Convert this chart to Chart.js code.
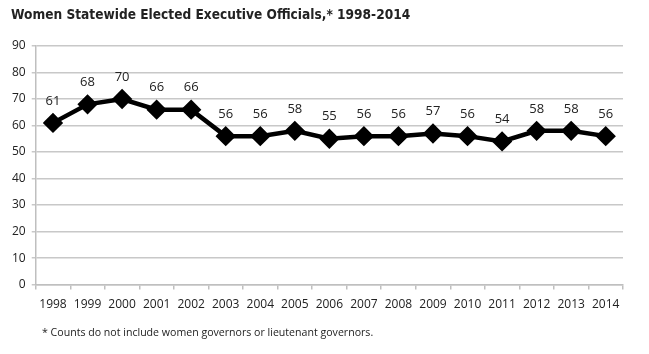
<!DOCTYPE html>
<html><head><meta charset="utf-8">
<script src="https://cdn.jsdelivr.net/npm/chart.js@4/dist/chart.umd.min.js"></script>
<style>html,body{margin:0;padding:0;background:#fff}#wrap{width:649px;height:354px;position:relative}</style>
</head><body><div id="wrap"><canvas id="c"></canvas></div>
<script>
const years = ['1998','1999','2000','2001','2002','2003','2004','2005','2006','2007','2008','2009','2010','2011','2012','2013','2014'];
const officials = [61,68,70,66,66,56,56,58,55,56,56,57,56,54,58,58,56];
const titleText = 'Women Statewide Elected Executive Officials,* 1998-2014';
const footnoteText = '* Counts do not include women governors or lieutenant governors.';

const labelsPlugin = {
  id: 'pointLabels',
  afterDatasetsDraw(chart) {
    const ctx = chart.ctx;
    const meta = chart.getDatasetMeta(0);
    ctx.save();
    ctx.font = '13px "Open Sans", sans-serif';
    ctx.fillStyle = '#222';
    ctx.textAlign = 'center';
    ctx.textBaseline = 'middle';
    meta.data.forEach((p, i) => {
      ctx.fillText(String(officials[i]), p.x, p.y - 22);
    });
    ctx.restore();
  }
};
const textPlugin = {
  id: 'texts',
  afterDraw(chart) {
    const ctx = chart.ctx;
    ctx.save();
    ctx.fillStyle = '#222';
    ctx.textBaseline = 'middle';
    ctx.textAlign = 'left';
    ctx.font = 'bold 13.6px "DejaVu Sans Condensed", "DejaVu Sans", sans-serif';
    ctx.fillText(titleText, 11, 15);
    ctx.font = '10.6px "Open Sans", sans-serif';
    ctx.fillText(footnoteText, 42, 333);
    ctx.restore();
  }
};

new Chart(document.getElementById('c'), {
  type: 'line',
  data: {
    labels: years,
    datasets: [{
      data: officials,
      borderColor: '#000',
      backgroundColor: '#000',
      borderWidth: 4.5,
      pointStyle: 'rectRot',
      pointRadius: 7,
      pointHoverRadius: 7,
      tension: 0
    }]
  },
  options: {
    responsive: true,
    maintainAspectRatio: false,
    animation: false,
    layout: { padding: { left: 6, right: 26, top: 46, bottom: 34 } },
    plugins: { legend: { display: false }, tooltip: { enabled: false } },
    scales: {
      x: {
        offset: true,
        grid: { display: true, drawOnChartArea: false, offset: true, color: '#bfbfbf', lineWidth: 1.5, tickLength: 5 },
        border: { color: '#bfbfbf', width: 1.5 },
        ticks: { color: '#222', font: { family: '"Open Sans", sans-serif', size: 12 }, maxRotation: 0, autoSkip: false, padding: 8 }
      },
      y: {
        min: 0, max: 90,
        ticks: { stepSize: 10, color: '#222', font: { family: '"Open Sans", sans-serif', size: 12 }, padding: 6 },
        grid: { color: '#c8c8c8', lineWidth: 1.5, tickLength: 4 },
        border: { color: '#bfbfbf', width: 1.5 }
      }
    }
  },
  plugins: [labelsPlugin, textPlugin]
});
</script></body></html>
